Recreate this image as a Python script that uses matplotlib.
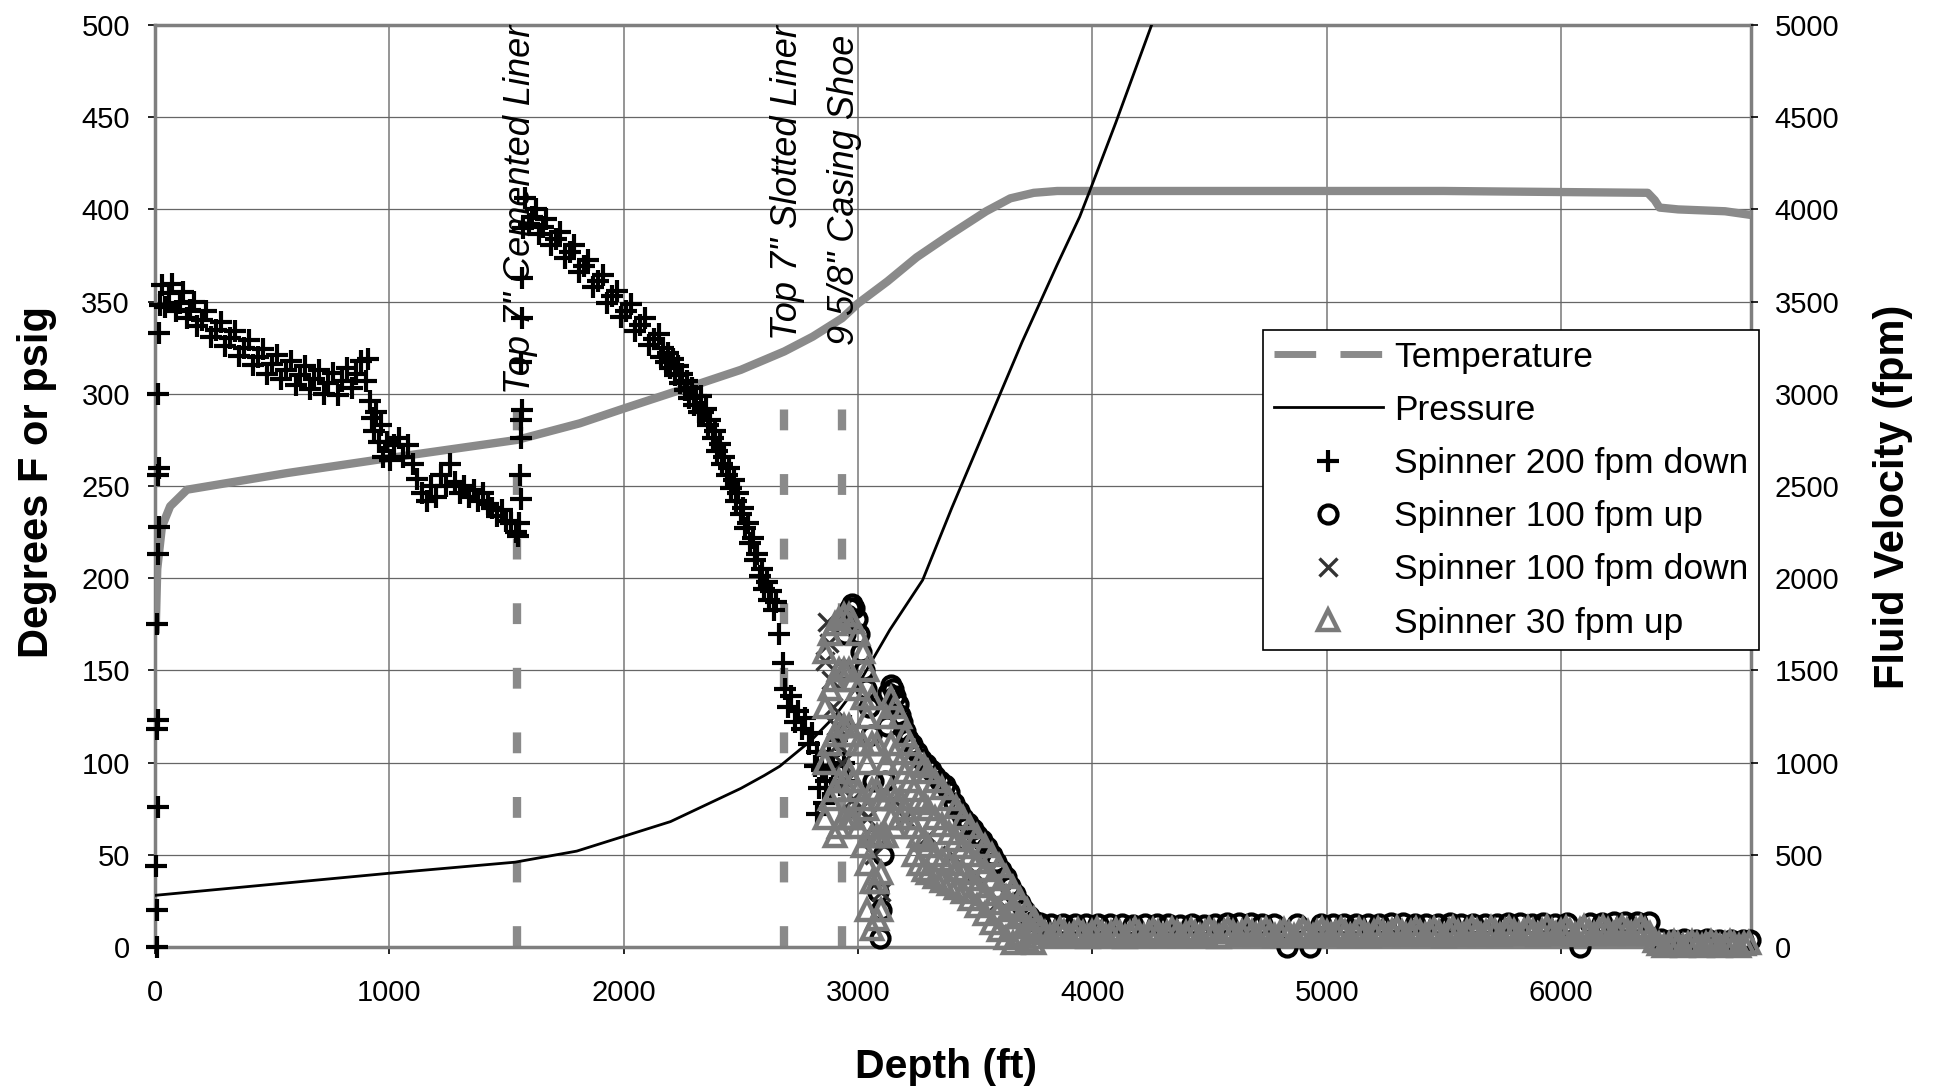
import numpy as np
import matplotlib.pyplot as plt
from matplotlib.lines import Line2D

plt.rcParams['font.family'] = ['Liberation Sans', 'DejaVu Sans']

# Temperature log (deg F) vs depth
temp_depth = [3, 10, 30, 65, 137, 563, 990, 1545, 1813, 2000, 2240, 2500, 2686, 2807, 2932, 3000,
              3126, 3250, 3389, 3547, 3650, 3750, 3850, 4500, 5500, 6370, 6400, 6420, 6500, 6700, 6810]
temp_F = [170, 205, 228, 239, 248, 257, 265, 275, 284, 292, 302, 313, 323, 331, 341, 349,
          361, 374, 386, 399, 406, 409, 410, 410, 410, 409, 405, 401, 400, 399, 397]

# Pressure log (psig) vs depth
pres_depth = [0, 500, 1000, 1537, 1800, 2000, 2200, 2400, 2500, 2600, 2666, 2800, 2900, 3000,
              3063, 3136, 3276, 3400, 3550, 3700, 3850, 3946, 3989, 4100, 4253]
pres_psig = [28, 34, 40, 46, 52, 60, 68, 80, 86, 93, 98, 112, 125, 142,
             156, 172, 199, 238, 283, 328, 370, 396, 410, 447, 500]

# Spinner passes, (depth ft, fluid velocity fpm)
spin200_down = [
    (8, 0), (10, 200), (6, 440), (12, 760), (8, 1180), (12, 1230), (10, 1750), (14, 2130),
    (16, 2280), (12, 2560), (16, 2600), (14, 3000), (18, 3330), (20, 3480),
    (30, 3590), (45, 3470), (60, 3545), (75, 3595), (90, 3450), (105, 3490), (120, 3550),
    (135, 3410), (150, 3455), (165, 3500), (180, 3370), (200, 3400), (220, 3450), (240, 3310),
    (260, 3345), (280, 3390), (300, 3260), (320, 3300), (340, 3340), (360, 3205), (380, 3250),
    (400, 3290), (420, 3155), (440, 3200), (460, 3245), (480, 3110), (500, 3160), (520, 3210),
    (540, 3080), (560, 3130), (580, 3180), (600, 3050), (620, 3100), (640, 3150), (660, 3025),
    (680, 3080), (700, 3130), (720, 3000), (740, 3060), (760, 3115), (780, 2995), (800, 3070),
    (820, 3140), (840, 3030), (860, 3110), (880, 3180), (900, 3070), (910, 3190), (918, 2960),
    (925, 2870), (935, 2800), (945, 2900), (955, 2740), (965, 2830), (975, 2660), (990, 2740),
    (1005, 2640), (1020, 2720), (1040, 2760), (1060, 2660), (1080, 2720), (1100, 2620),
    (1120, 2540), (1140, 2460), (1160, 2420), (1180, 2500), (1200, 2440), (1220, 2560),
    (1240, 2500), (1260, 2620), (1280, 2520), (1300, 2460), (1320, 2500), (1340, 2440),
    (1360, 2480), (1380, 2420), (1400, 2460), (1420, 2400), (1440, 2380), (1460, 2340),
    (1480, 2370), (1500, 2310), (1520, 2300), (1540, 2250), (1550, 2230),
    (1555, 2300), (1560, 2430), (1558, 2560), (1562, 2760), (1560, 2860), (1565, 2910),
    (1562, 3170), (1566, 3410), (1568, 3630), (1570, 3900),
    (1580, 4060), (1595, 3920), (1610, 3960), (1625, 4000), (1640, 3865), (1655, 3905),
    (1670, 3950), (1690, 3805), (1710, 3840), (1730, 3875), (1750, 3735), (1770, 3770),
    (1790, 3805), (1810, 3660), (1830, 3695), (1850, 3725), (1870, 3580), (1890, 3610),
    (1910, 3645), (1930, 3495), (1950, 3530), (1970, 3560), (1990, 3415), (2010, 3450),
    (2030, 3485), (2050, 3340), (2070, 3375), (2090, 3410), (2110, 3265), (2130, 3295),
    (2150, 3325), (2160, 3200), (2170, 3250), (2180, 3170), (2190, 3220), (2200, 3140),
    (2210, 3190), (2220, 3100), (2230, 3150), (2240, 3060), (2250, 3110), (2260, 3020),
    (2270, 3070), (2280, 2980), (2290, 3030), (2300, 2940), (2310, 2990), (2320, 2900),
    (2330, 2990), (2340, 2900), (2350, 2920), (2360, 2830), (2370, 2860), (2380, 2760),
    (2390, 2800), (2400, 2690), (2410, 2730), (2420, 2620), (2430, 2660), (2440, 2560),
    (2450, 2600), (2460, 2490), (2470, 2530), (2480, 2420), (2490, 2460), (2500, 2350),
    (2510, 2380), (2520, 2270), (2530, 2300), (2540, 2190), (2550, 2220), (2560, 2100),
    (2570, 2130), (2580, 2010), (2590, 2050), (2600, 1940), (2610, 1980), (2620, 1880),
    (2630, 1930), (2640, 1830), (2650, 1870), (2665, 1700), (2680, 1540), (2690, 1400),
    (2700, 1300), (2715, 1360), (2730, 1220), (2745, 1280), (2760, 1180), (2775, 1240),
    (2790, 1100), (2805, 1160), (2815, 980), (2824, 720), (2825, 1060), (2835, 860),
    (2845, 960), (2855, 780), (2865, 900), (2875, 1040), (2885, 860), (2895, 980),
    (2910, 1120), (2925, 880), (2940, 1000), (2955, 900), (2965, 1200),
]

spin100_up = [
    (2935, 1500), (2945, 1700), (2955, 1800), (2965, 1840), (2975, 1860), (2985, 1840),
    (2995, 1780), (3005, 1700), (3015, 1600), (3025, 1500), (3035, 1400), (3045, 1300),
    (3055, 1150), (3065, 900), (3075, 600), (3085, 300), (3093, 50), (3100, 200), (3108, 500),
    (3115, 900), (3122, 1200), (3130, 1380), (3140, 1420), (3150, 1400), (3160, 1360),
    (3170, 1320), (3180, 1260), (3190, 1220), (3200, 1170), (3215, 1130), (3230, 1100),
    (3250, 1060), (3270, 1020), (3290, 990), (3310, 960), (3330, 930), (3350, 900), (3370, 880),
    (3390, 840), (3410, 780), (3430, 740), (3450, 700), (3470, 670), (3490, 640), (3510, 610),
    (3530, 580), (3550, 540), (3570, 500), (3590, 460), (3610, 420), (3630, 380), (3650, 330),
    (3670, 290), (3690, 240), (3710, 200), (3730, 170), (3750, 140),
    (3775, 128), (3825, 125), (3875, 127), (3925, 124), (3975, 126), (4025, 122), (4075, 125),
    (4125, 123), (4175, 120), (4225, 124), (4275, 122), (4325, 125), (4375, 120), (4425, 123),
    (4475, 121), (4525, 126), (4575, 130), (4625, 132), (4675, 128), (4725, 126), (4775, 124),
    (4830, 0), (4875, 125), (4930, 0), (4975, 127), (5025, 124), (5075, 126), (5125, 122),
    (5175, 125), (5225, 127), (5275, 130), (5325, 128), (5375, 125), (5425, 127), (5475, 124),
    (5525, 128), (5575, 126), (5625, 124), (5675, 127), (5725, 125), (5775, 128), (5825, 130),
    (5875, 127), (5925, 129), (5975, 126), (6025, 128), (6080, 0), (6125, 130), (6175, 132),
    (6225, 135), (6275, 133), (6325, 136), (6375, 138),
    (6425, 42), (6475, 40), (6525, 42), (6575, 39), (6625, 41), (6675, 38), (6725, 40),
    (6775, 38), (6805, 36),
]

spin100_down = [
    (2860, 1550), (2867, 1760), (2875, 1650), (2885, 1450), (2895, 1300), (2905, 1200),
    (2915, 1100), (2930, 1000), (2950, 900), (2980, 800), (3010, 750), (3040, 700),
    (3070, 500), (3100, 300), (3150, 800), (3200, 700), (3300, 600), (3400, 500), (3500, 400),
    (3600, 250), (3700, 100), (3800, 80), (4000, 70), (4500, 80), (5000, 70), (5500, 75),
    (6000, 80), (6500, 20),
]

spin30_up = [
    (2860, 1600), (2860, 1300), (2860, 1000), (2860, 700),
    (2880, 1700), (2880, 1400), (2880, 1100), (2880, 800),
    (2900, 1750), (2900, 1450), (2900, 1150), (2900, 850), (2900, 600),
    (2920, 1780), (2920, 1500), (2920, 1200), (2920, 900), (2920, 650),
    (2940, 1800), (2940, 1500), (2940, 1200), (2940, 900), (2940, 700),
    (2960, 1800), (2960, 1500), (2960, 1200), (2960, 950), (2960, 700),
    (2980, 1760), (2980, 1450), (2980, 1150), (2980, 900), (2980, 700),
    (3000, 1700), (3000, 1400), (3000, 1100), (3000, 850), (3000, 650),
    (3020, 1600), (3020, 1350), (3020, 1100), (3020, 800), (3020, 550),
    (3040, 1500), (3040, 1250), (3040, 1000), (3040, 750), (3040, 450), (3040, 200),
    (3060, 1350), (3060, 1100), (3060, 850), (3060, 600), (3060, 350), (3060, 100),
    (3080, 1100), (3080, 850), (3080, 600), (3080, 350), (3080, 150),
    (3100, 800), (3100, 600), (3100, 400), (3100, 200),
    (3120, 1250), (3120, 1000), (3120, 800), (3120, 600),
    (3140, 1350), (3140, 1100), (3140, 850), (3140, 700),
    (3160, 1300), (3160, 1050), (3160, 800), (3160, 650),
    (3180, 1250), (3180, 1000), (3180, 800), (3180, 700),
    (3200, 1150), (3200, 950), (3200, 750),
    (3220, 1100), (3220, 900), (3220, 700),
    (3240, 1050), (3240, 850), (3240, 650), (3240, 500),
    (3260, 1000), (3260, 800), (3260, 600), (3260, 450),
    (3280, 980), (3280, 780), (3280, 580), (3280, 420),
    (3300, 950), (3300, 750), (3300, 550), (3300, 400),
    (3330, 900), (3330, 700), (3330, 500), (3330, 380),
    (3360, 860), (3360, 660), (3360, 470), (3360, 360),
    (3390, 800), (3390, 620), (3390, 450), (3390, 340),
    (3420, 760), (3420, 580), (3420, 420), (3420, 320),
    (3450, 700), (3450, 540), (3450, 400), (3450, 300),
    (3480, 650), (3480, 500), (3480, 370), (3480, 260),
    (3510, 600), (3510, 460), (3510, 330), (3510, 220),
    (3540, 550), (3540, 420), (3540, 290), (3540, 180),
    (3570, 500), (3570, 370), (3570, 240), (3570, 130),
    (3600, 440), (3600, 320), (3600, 200), (3600, 90),
    (3630, 380), (3630, 270), (3630, 160), (3630, 50),
    (3660, 320), (3660, 220), (3660, 110), (3660, 20),
    (3690, 260), (3690, 160), (3690, 60),
    (3720, 200), (3720, 110), (3720, 30),
    (3750, 150), (3750, 80), (3750, 20),
    # flat stretch below the shoe, staggered rows
    (3780, 95), (3820, 58), (3860, 98), (3900, 62), (3940, 93), (3980, 56), (4020, 97),
    (4060, 60), (4100, 92), (4140, 55), (4180, 96), (4220, 59), (4260, 94), (4300, 57),
    (4340, 98), (4380, 61), (4420, 93), (4460, 58), (4500, 97), (4540, 56), (4580, 100),
    (4620, 63), (4660, 102), (4700, 64), (4740, 98), (4780, 60), (4820, 94), (4860, 57),
    (4900, 97), (4940, 61), (4980, 100), (5020, 64), (5060, 99), (5100, 62), (5140, 96),
    (5180, 59), (5220, 100), (5260, 65), (5300, 103), (5340, 66), (5380, 100), (5420, 63),
    (5460, 98), (5500, 61), (5540, 102), (5580, 65), (5620, 104), (5660, 67), (5700, 102),
    (5740, 64), (5780, 105), (5820, 68), (5860, 103), (5900, 66), (5940, 106), (5980, 69),
    (6020, 104), (6060, 67), (6100, 108), (6140, 70), (6180, 106), (6220, 68), (6260, 109),
    (6300, 71), (6340, 111), (6380, 72),
    (3800, 78), (3840, 76), (3880, 80), (3920, 77), (3960, 75), (4000, 79), (4040, 76),
    (4080, 74), (4120, 78), (4160, 75), (4200, 77), (4240, 76), (4280, 79), (4320, 77),
    (4360, 80), (4400, 76), (4440, 78), (4480, 75), (4520, 79), (4560, 81), (4600, 83),
    (4640, 82), (4680, 80), (4720, 79), (4760, 77), (4800, 76), (4840, 78), (4880, 79),
    (4920, 81), (4960, 80), (5000, 82), (5040, 81), (5080, 79), (5120, 78), (5160, 80),
    (5200, 82), (5240, 84), (5280, 85), (5320, 83), (5360, 82), (5400, 80), (5440, 81),
    (5480, 83), (5520, 85), (5560, 84), (5600, 86), (5640, 85), (5680, 83), (5720, 85),
    (5760, 87), (5800, 86), (5840, 88), (5880, 86), (5920, 88), (5960, 87), (6000, 89),
    (6040, 88), (6080, 90), (6120, 89), (6160, 91), (6200, 90), (6240, 92), (6280, 91),
    (6320, 93), (6360, 94),
    (6400, 30), (6440, 8), (6480, 28), (6520, 6), (6560, 27), (6600, 5), (6640, 26),
    (6680, 6), (6720, 25), (6760, 5), (6800, 24),
    (6420, 18), (6460, 17), (6500, 18), (6540, 16), (6580, 17), (6620, 15), (6660, 16),
    (6700, 15), (6740, 14), (6780, 15),
]

# casing / liner tops
casing_depth = [1545, 2686, 2932]
casing_top = [300, 313, 313]
casing_text = ['Top 7" Cemented Liner', 'Top 7" Slotted Liner', '9 5/8" Casing Shoe']
casing_text_x = [1561, 2700, 2943]
casing_text_y = [500, 500, 495]


fig = plt.figure(figsize=(19.34, 10.88), dpi=100)
ax = fig.add_axes([0.0801, 0.1296, 0.8252, 0.8474])
ax2 = ax.twinx()

# left axis: temperature, pressure, casing markers
ax.plot(temp_depth, temp_F, color='#8a8a8a', lw=6, solid_capstyle='butt', zorder=3)
h_pres, = ax.plot(pres_depth, pres_psig, color='black', lw=2, zorder=4, label='Pressure')

for d, top in zip(casing_depth, casing_top):
    ax.plot([d, d], [0, top], color='#8a8a8a', lw=6, dashes=(2.5, 5.25), zorder=2)
for x, y, s in zip(casing_text_x, casing_text_y, casing_text):
    ax.text(x, y, s, rotation=90, ha='center', va='top', fontsize=26, style='italic', zorder=5)

# right axis: spinner passes
d, v = np.array(spin200_down).T
h_p200, = ax2.plot(d, v, ls='none', marker='+', ms=16, mew=3.0, color='black', clip_on=False)
d, v = np.array(spin100_up).T
h_c100, = ax2.plot(d, v, ls='none', marker='o', ms=13, mfc='none', mec='black', mew=3.0, clip_on=False)
d, v = np.array(spin100_down).T
h_x100, = ax2.plot(d, v, ls='none', marker='x', ms=13, mec='#333333', mew=2.4, clip_on=False)
d, v = np.array(spin30_up).T
h_t30, = ax2.plot(d, v, ls='none', marker='^', ms=14, mfc='none', mec='#7a7a7a', mew=3.2, clip_on=False)

ax.set_xlim(0, 6810)
ax.set_ylim(0, 500)
ax2.set_ylim(0, 5000)
ax.set_xticks(np.arange(0, 7000, 1000))
ax.set_yticks(np.arange(0, 501, 50))
ax2.set_yticks(np.arange(0, 5001, 500))

ax.set_axisbelow(True)
ax.grid(True, axis='y', color='#666666', lw=0.9)
ax.grid(True, axis='x', color='#8c8c8c', lw=1.3)

for sp in ax.spines.values():
    sp.set_color('#7f7f7f')
    sp.set_linewidth(2.5)
for sp in ax2.spines.values():
    sp.set_visible(False)

ax.tick_params(axis='both', direction='out', length=5, width=1.2, labelsize=21, color='black')
ax.tick_params(axis='x', pad=18)
ax.tick_params(axis='y', pad=13)
ax2.tick_params(axis='y', direction='out', length=5, width=1.2, labelsize=21, pad=12)

ax.set_xlabel('Depth (ft)', fontsize=29.5, fontweight='bold', va='center')
ax.xaxis.set_label_coords(0.496, -0.13)
ax.set_ylabel('Degrees F or psig', fontsize=30, fontweight='bold', va='center')
ax.yaxis.set_label_coords(-0.0739, 0.504)
ax2.set_ylabel('Fluid Velocity (fpm)', fontsize=30, fontweight='bold', rotation=90, va='center')
ax2.yaxis.set_label_coords(1.089, 0.488)

h_temp = Line2D([], [], color='#8a8a8a', lw=5, dashes=(6, 3.5))
handles = [h_temp, h_pres, h_p200, h_c100, h_x100, h_t30]
labels = ['Temperature', 'Pressure', 'Spinner 200 fpm down', 'Spinner 100 fpm up',
          'Spinner 100 fpm down', 'Spinner 30 fpm up']
leg = fig.legend(handles, labels, loc='upper left', bbox_to_anchor=(0.653, 0.6967),
                 fontsize=25.5, frameon=True, fancybox=False, edgecolor='black', framealpha=1,
                 borderpad=0.3, labelspacing=0.57, handlelength=3.1, handletextpad=0.3,
                 borderaxespad=0, numpoints=1)
leg.get_frame().set_linewidth(1.2)

fig.savefig('out.png', dpi=100)
